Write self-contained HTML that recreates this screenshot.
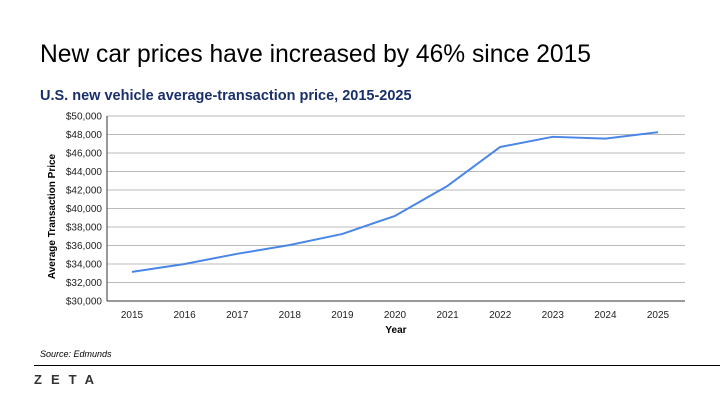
<!DOCTYPE html>
<html><head><meta charset="utf-8"><style>
body{margin:0;width:720px;height:405px;background:#fff;font-family:"Liberation Sans",sans-serif;overflow:hidden;position:relative}
.t{position:absolute;left:40px;top:41px;font-size:24.6px;color:#000}
.s{position:absolute;left:40px;top:88px;font-size:14.5px;font-weight:bold;color:#1a2f6b}
</style></head><body>
<div class="t">New car prices have increased by 46% since 2015</div>
<div class="s">U.S. new vehicle average-transaction price, 2015-2025</div>
<svg id="c" width="720" height="405" style="position:absolute;left:0;top:0"></svg>
<div style="position:absolute;left:40px;top:349px;font-size:9px;font-style:italic">Source: Edmunds</div>
<div style="position:absolute;left:34px;top:365px;width:686px;height:1px;background:#000"></div>
<div style="position:absolute;left:34px;top:372px;font-size:13px;font-weight:bold;letter-spacing:9px;color:#333">ZETA</div>
<script>
const years=["2015","2016","2017","2018","2019","2020","2021","2022","2023","2024","2025"];
const prices=[33150,34000,35100,36050,37250,39200,42450,46650,47750,47550,48250];
const yTicks=[30000,32000,34000,36000,38000,40000,42000,44000,46000,48000,50000];
const NS="http://www.w3.org/2000/svg",svg=document.getElementById('c');
const L=107,R=685,T=116,B=301;
const x=i=>132+i*(658-132)/(years.length-1);
const y=v=>B-(v-30000)/20000*(B-T);
function mk(t,a){const e=document.createElementNS(NS,t);for(const k in a)e.setAttribute(k,a[k]);svg.appendChild(e);return e;}
yTicks.forEach(v=>{
 const g=mk('line',{x1:L,x2:R,y1:y(v),y2:y(v),stroke:'#bbb','stroke-width':1});
 
 
 const t=mk('text',{x:L-5,y:y(v)+3.5,'text-anchor':'end','font-size':10,fill:'#222'});
 t.textContent='$'+v.toLocaleString('en-US');
 
 
});
const ax=mk('line',{x1:L,x2:L,y1:T,y2:B,stroke:'#333','stroke-width':1});


const xa=mk('line',{x1:L,x2:R,y1:B,y2:B,stroke:'#333','stroke-width':1});


years.forEach((yr,i)=>{
 const t=mk('text',{x:x(i),y:318,'text-anchor':'middle','font-size':10,fill:'#222'});
 t.textContent=yr;
 
 
});
const p=mk('polyline',{points:prices.map((v,i)=>x(i)+','+y(v)).join(' '),fill:'none',stroke:'#4a86e8','stroke-width':2,'stroke-linejoin':'round'});


const xt=mk('text',{x:(L+R)/2,y:333,'text-anchor':'middle','font-size':10,'font-weight':'bold'});
xt.textContent='Year';


const yt=mk('text',{x:0,y:0,'text-anchor':'middle','font-size':10,'font-weight':'bold',transform:'translate(55,'+((T+B)/2+8)+') rotate(-90)'});
yt.textContent='Average Transaction Price';


</script>
</body></html>
